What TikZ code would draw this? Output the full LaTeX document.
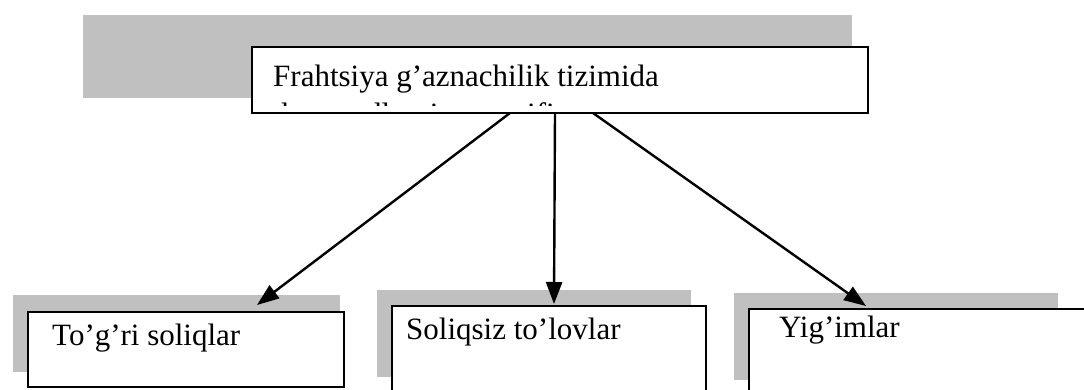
\documentclass[tikz,border=0pt]{standalone}
\usepackage{fontspec}
\setmainfont{Liberation Serif}
\usetikzlibrary{arrows.meta}
\definecolor{shade}{HTML}{C0C0C0}
\tikzset{
  shadowbox/.style={fill=shade, draw=none},
  whitebox/.style={fill=white, draw=black, line width=2.4pt},
  label/.style={anchor=base west, inner sep=0pt, font=\fontsize{31}{36}\selectfont},
  conn/.style={line width=2.4pt, -{Triangle[length=22pt,width=16pt]}}
}
\begin{document}
\begin{tikzpicture}[x=1pt,y=-1pt]
\clip (0,0) rectangle (1084,389);
\fill[white] (0,0) rectangle (1084,389);
% top
\path[shadowbox] (83,15) rectangle (852,98);
\path[whitebox] (252,47) rectangle (868,113);
\node[draw=none, minimum width=616pt, minimum height=66pt, inner sep=0pt] (top) at (560,80) {};
\begin{scope}
  \clip (254,49) rectangle (866,105);
  \node[label] (t1) at (273,86) {Frahtsiya g’aznachilik tizimida};
  \node[label] (t2) at (273,124) {daromadlarning tasnifi};
\end{scope}
% bottom boxes
\path[shadowbox] (13,295) rectangle (340,372);
\path[whitebox] (28,312) rectangle (344,387);
\node[draw=none, minimum width=316pt, minimum height=75pt, inner sep=0pt] (b1) at (186,349.5) {};
\node[label] (l1) at (52,345) {To’g’ri soliqlar};

\path[shadowbox] (377,290) rectangle (691,377);
\path[whitebox] (392,306) rectangle (706,400);
\node[draw=none, minimum width=314pt, minimum height=94pt, inner sep=0pt] (b2) at (549,353) {};
\node[label] (l2) at (406,339) {Soliqsiz to’lovlar};

\path[shadowbox] (734,293) rectangle (1058,380);
\path[whitebox] (749,309) rectangle (1100,400);
\node[draw=none, minimum width=351pt, minimum height=91pt, inner sep=0pt] (b3) at (924.5,354.5) {};
\node[label] (l3) at (779,337) {Yig’imlar};
% connectors
\coordinate (s1) at (510,113);
\coordinate (s2) at (555,113);
\coordinate (s3) at (593,113);
\coordinate (e1) at (257,305);
\coordinate (e2) at (554,304);
\coordinate (e3) at (866,306);
\draw[conn] (s1) -- (e1);
\draw[conn] (s2) -- (e2);
\draw[conn] (s3) -- (e3);
\end{tikzpicture}
\end{document}
